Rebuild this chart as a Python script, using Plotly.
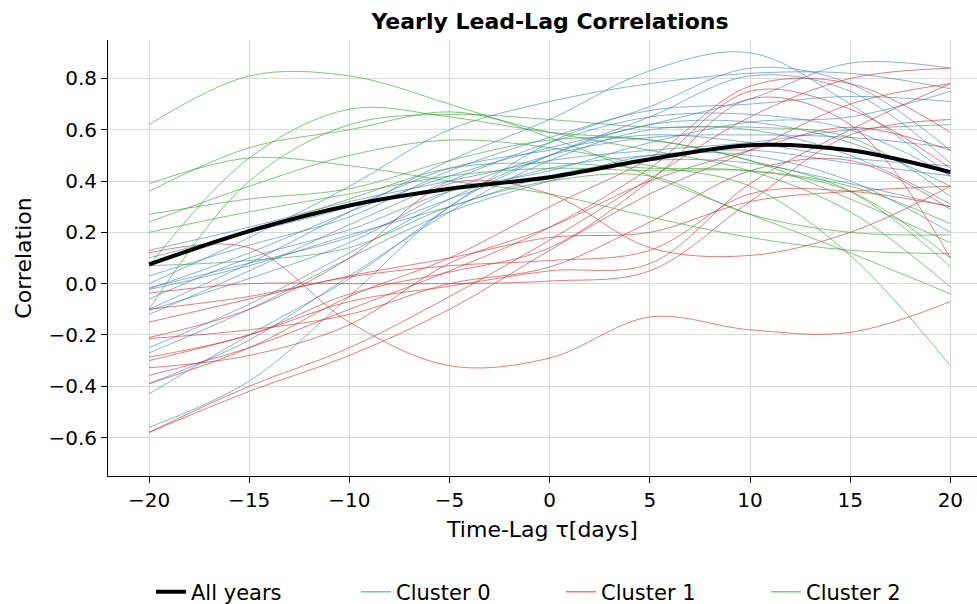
import plotly.graph_objects as go

lags = [-20, -15, -10, -5, 0, 5, 10, 15, 20]

all_years = [0.075, 0.205, 0.305, 0.37, 0.415, 0.485, 0.54, 0.52, 0.435]

cluster0 = [
    [-0.10, 0.08, 0.28, 0.48, 0.64, 0.83, 0.90, 0.70, 0.42],
    [-0.02, 0.12, 0.28, 0.42, 0.53, 0.62, 0.72, 0.86, 0.84],
    [0.00, 0.18, 0.38, 0.60, 0.71, 0.78, 0.82, 0.82, 0.76],
    [-0.43, -0.20, 0.02, 0.30, 0.55, 0.69, 0.84, 0.78, 0.52],
    [-0.56, -0.38, -0.05, 0.30, 0.50, 0.65, 0.81, 0.75, 0.47],
    [0.03, 0.15, 0.26, 0.44, 0.57, 0.675, 0.70, 0.73, 0.71],
    [-0.12, 0.05, 0.23, 0.40, 0.55, 0.65, 0.66, 0.60, 0.42],
    [-0.25, -0.08, 0.12, 0.33, 0.50, 0.62, 0.63, 0.55, 0.38],
    [-0.39, -0.22, 0.03, 0.28, 0.48, 0.60, 0.60, 0.50, 0.31],
    [0.10, 0.20, 0.30, 0.45, 0.52, 0.58, 0.55, 0.49, 0.46],
    [-0.06, 0.10, 0.21, 0.36, 0.44, 0.55, 0.63, 0.65, 0.75],
    [-0.27, -0.10, 0.10, 0.28, 0.40, 0.50, 0.50, 0.40, 0.20],
    [-0.016, 0.08, 0.18, 0.33, 0.45, 0.50, 0.52, 0.47, 0.42],
    [-0.104, 0.02, 0.16, 0.36, 0.50, 0.57, 0.58, 0.57, 0.53],
    [0.13, 0.22, 0.32, 0.40, 0.48, 0.52, 0.55, 0.60, 0.62],
    [-0.023, 0.07, 0.19, 0.30, 0.42, 0.48, 0.47, 0.39, 0.30],
]

cluster1 = [
    [0.12, 0.14, -0.15, -0.32, -0.29, -0.13, -0.18, -0.19, -0.07],
    [-0.21, -0.10, 0.10, 0.39, 0.35, 0.14, 0.11, 0.20, 0.38],
    [-0.037, 0.0, 0.0, 0.0, 0.01, 0.05, 0.32, 0.58, 0.64],
    [-0.58, -0.40, -0.25, -0.05, 0.17, 0.41, 0.65, 0.80, 0.84],
    [-0.58, -0.42, -0.28, -0.10, 0.13, 0.35, 0.52, 0.70, 0.78],
    [-0.39, -0.25, -0.05, 0.10, 0.30, 0.49, 0.77, 0.78, 0.59],
    [-0.358, -0.25, -0.10, 0.05, 0.22, 0.45, 0.75, 0.68, 0.45],
    [-0.328, -0.28, -0.16, 0.08, 0.22, 0.40, 0.52, 0.61, 0.52],
    [-0.286, -0.20, -0.04, 0.045, 0.14, 0.40, 0.72, 0.62, 0.10],
    [-0.214, -0.18, -0.12, 0.0, 0.065, 0.24, 0.44, 0.48, 0.29],
    [-0.10, -0.05, 0.026, 0.07, 0.09, 0.13, 0.35, 0.36, 0.30],
    [-0.30, -0.20, -0.07, -0.01, 0.05, 0.078, 0.39, 0.60, 0.78],
    [-0.15, -0.06, 0.03, 0.10, 0.18, 0.20, 0.32, 0.36, 0.38],
]

cluster2 = [
    [0.62, 0.81, 0.81, 0.70, 0.57, 0.42, 0.27, 0.12, -0.04],
    [0.07, 0.49, 0.68, 0.65, 0.59, 0.56, 0.48, 0.33, 0.16],
    [-0.10, 0.40, 0.62, 0.66, 0.64, 0.61, 0.61, 0.57, 0.34],
    [0.39, 0.49, 0.46, 0.40, 0.35, 0.26, 0.18, 0.13, 0.117],
    [0.36, 0.53, 0.60, 0.67, 0.59, 0.52, 0.44, 0.28, -0.013],
    [0.27, 0.33, 0.37, 0.48, 0.56, 0.56, 0.48, 0.36, 0.067],
    [0.24, 0.38, 0.50, 0.56, 0.53, 0.46, 0.38, 0.11, -0.32],
    [0.20, 0.28, 0.35, 0.42, 0.45, 0.44, 0.44, 0.38, 0.234],
    [0.07, 0.09, 0.14, 0.30, 0.40, 0.42, 0.27, 0.20, 0.19],
    [0.07, 0.20, 0.33, 0.45, 0.47, 0.45, 0.44, 0.36, 0.10],
]

x_ticks = [-20, -15, -10, -5, 0, 5, 10, 15, 20]
y_ticks = [-0.6, -0.4, -0.2, 0.0, 0.2, 0.4, 0.6, 0.8]

clusters = [
    ("Cluster 0", cluster0, "rgba(31,119,180,0.55)"),
    ("Cluster 1", cluster1, "rgba(214,39,40,0.6)"),
    ("Cluster 2", cluster2, "rgba(44,160,44,0.6)"),
]

fig = go.Figure()
for name, lines, color in clusters:
    for ys in lines:
        fig.add_trace(go.Scatter(
            x=lags, y=ys, mode="lines", name=name, showlegend=False,
            line=dict(color=color, width=1, shape="spline", smoothing=1.0),
            hoverinfo="skip",
        ))

fig.add_trace(go.Scatter(
    x=lags, y=all_years, mode="lines", name="All years", showlegend=False,
    line=dict(color="black", width=4, shape="spline", smoothing=1.0),
))

# legend-only entries (no data), in reference order
fig.add_trace(go.Scatter(x=[None], y=[None], mode="lines", name="All years",
                         line=dict(color="black", width=4)))
for name, lines, color in clusters:
    fig.add_trace(go.Scatter(x=[None], y=[None], mode="lines", name=name,
                             line=dict(color=color, width=1.5)))

font = "DejaVu Sans"
fig.update_layout(
    width=977, height=604,
    margin=dict(l=108, r=0, t=40, b=128, autoexpand=False),
    paper_bgcolor="white", plot_bgcolor="white",
    font=dict(family=font, size=20, color="black"),
    title=dict(text="<b>Yearly Lead-Lag Correlations</b>", x=550 / 977, xref="container",
               xanchor="center", y=1 - 21 / 604, yref="container", yanchor="middle",
               font=dict(family=font, size=22)),
    showlegend=True,
    legend=dict(orientation="h", xref="paper", yref="paper",
                x=(561 - 108) / 869, xanchor="center", y=-(592 - 476) / 436, yanchor="middle",
                font=dict(size=21), entrywidth=160, traceorder="normal",
                bgcolor="rgba(0,0,0,0)"),
)
fig.update_xaxes(
    range=[-22.05, 21.33], tickvals=x_ticks, showgrid=True, gridcolor="#d9d9d9",
    showline=True, linecolor="black", linewidth=1, ticks="outside", ticklen=6,
    tickcolor="black", zeroline=False, automargin=False,
    title=dict(text="Time-Lag τ[days]", font=dict(size=22), standoff=10),
)
fig.update_yaxes(
    range=[-0.75, 0.95], tickvals=y_ticks, tickformat=".1f", showgrid=True,
    gridcolor="#d9d9d9", showline=True, linecolor="black", linewidth=1,
    ticks="outside", ticklen=6, tickcolor="black", zeroline=False, automargin=False,
    title=dict(text="Correlation", font=dict(size=22), standoff=10),
)

fig.write_html("out.html", config={"displayModeBar": False},
               post_script="document.body.style.margin='0px';document.body.style.overflow='hidden';")
